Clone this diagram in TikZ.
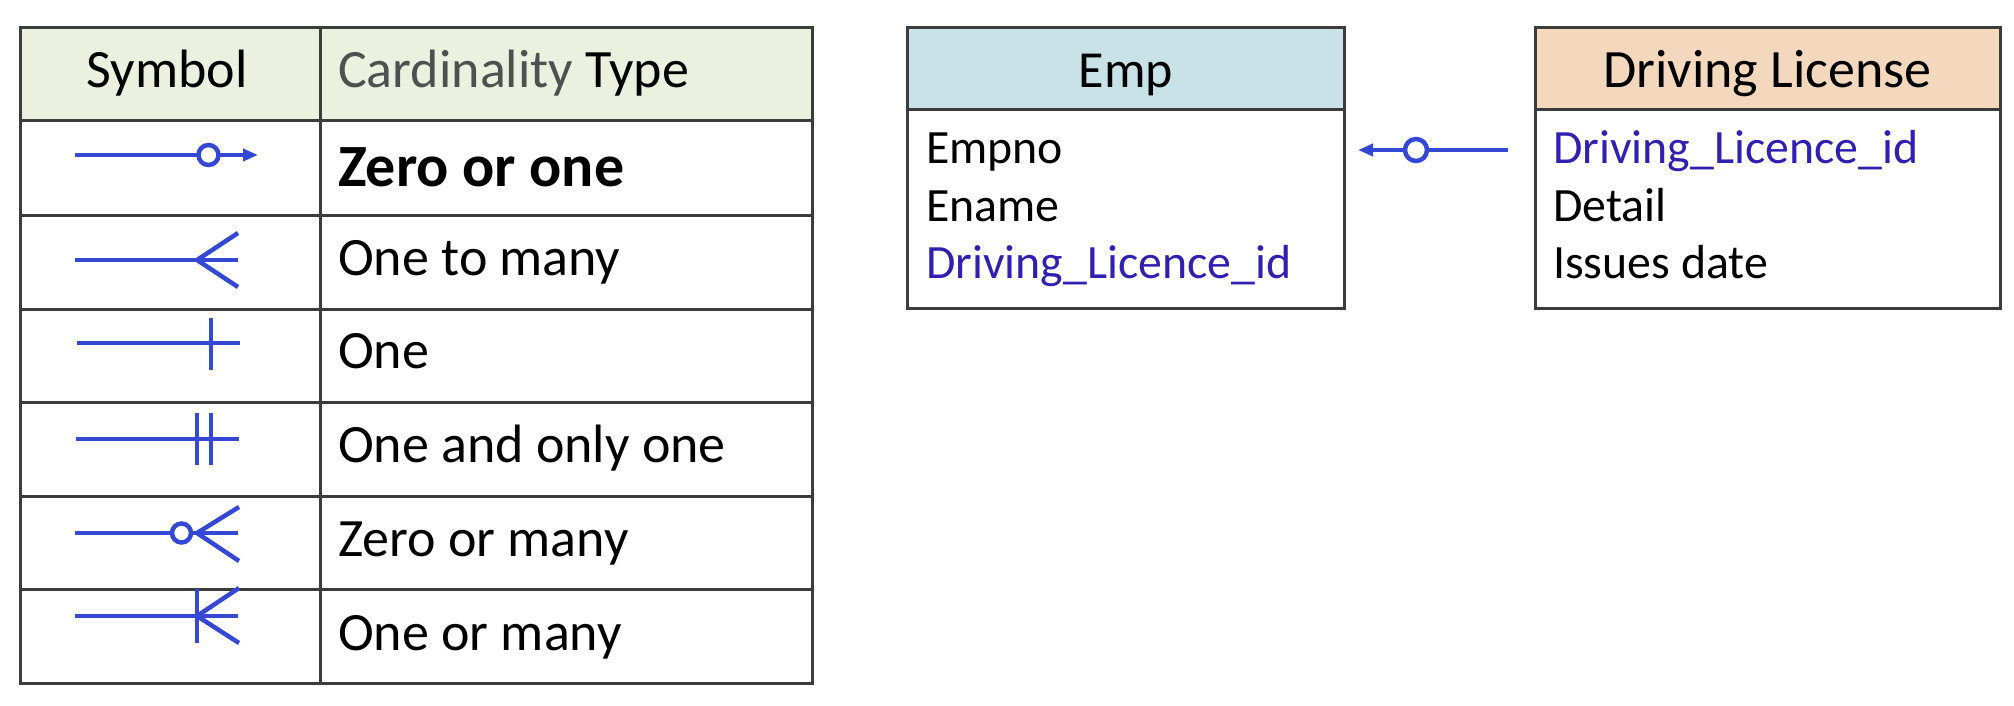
\documentclass[tikz,border=0pt]{standalone}
\usepackage{fontspec}
\setmainfont{Carlito}
\usetikzlibrary{arrows.meta}
\definecolor{tablegreen}{RGB}{235,241,222}
\definecolor{empblue}{RGB}{200,226,231}
\definecolor{dlpeach}{RGB}{243,216,190}
\definecolor{linegray}{RGB}{60,60,60}
\definecolor{symblue}{RGB}{52,72,212}
\definecolor{txtblue}{RGB}{48,32,176}
\definecolor{cardgray}{RGB}{80,80,80}
\tikzset{
  gridline/.style={draw=linegray, line width=3pt},
  symline/.style={draw=symblue, line width=4.5pt},
  tabtxt/.style={inner sep=0pt, anchor=base west, font=\fontsize{54pt}{60pt}\selectfont},
  headtxt/.style={inner sep=0pt, anchor=base, font=\fontsize{53pt}{60pt}\selectfont},
  attrtxt/.style={inner sep=0pt, anchor=base west, font=\fontsize{47.8pt}{56pt}\selectfont},
  boxhead/.style={draw=linegray, line width=3pt, minimum height=82pt, inner sep=0pt, outer sep=0pt},
  boxbody/.style={draw=linegray, line width=3pt, fill=white, minimum height=198pt, inner sep=0pt, outer sep=0pt},
  reltip/.style={-{Triangle[length=15pt,width=12pt]}}
}
\begin{document}
\begin{tikzpicture}[x=1pt,y=-1pt]
\useasboundingbox (0,0) rectangle (2014,706);
\fill[white] (0,0) rectangle (2014,706);

% ---- cardinality table ----
\fill[tablegreen] (20,28) rectangle (812,121);
\draw[gridline] (20,28) rectangle (812,683);
\draw[gridline] (320,28) -- (320,683);
\foreach \yy in {121,215,309,402,496,589} {
  \draw[gridline] (20,\yy) -- (812,\yy);
}
\node[tabtxt, anchor=base] (hsym) at (167,88) {Symbol};
\node[tabtxt] (hcard) at (338,88) {\textcolor{cardgray}{Cardinality} Type};
\node[tabtxt, font=\fontsize{60pt}{66pt}\selectfont] (t1) at (338,186) {\bfseries Zero or one};
\node[tabtxt] (t2) at (338,275) {One to many};
\node[tabtxt] (t3) at (338,368) {One};
\node[tabtxt] (t4) at (338,462) {One and only one};
\node[tabtxt] (t5) at (338,556) {Zero or many};
\node[tabtxt] (t6) at (338,650) {One or many};

% row 1: zero or one
\draw[symline, reltip] (75,155) -- (258,155);
\draw[symline, fill=white] (208.5,155) circle[radius=10pt];
% row 2: one to many
\draw[symline] (75,260) -- (238,260);
\draw[symline] (238,233) -- (197,260) -- (238,287);
% row 3: one
\draw[symline] (77,343) -- (240,343);
\draw[symline] (211,318) -- (211,370);
% row 4: one and only one
\draw[symline] (76,439) -- (239,439);
\draw[symline] (197,413) -- (197,465);
\draw[symline] (211,413) -- (211,465);
% row 5: zero or many
\draw[symline] (75,533) -- (238,533);
\draw[symline] (239,507) -- (197,533) -- (239,561);
\draw[symline, fill=white] (181.5,533) circle[radius=9.5pt];
% row 6: one or many
\draw[symline] (75,616) -- (238,616);
\draw[symline] (197,589) -- (197,643);
\draw[symline] (239,588) -- (197,616) -- (239,643);

% ---- Emp entity ----
\node[boxhead, fill=empblue, minimum width=437pt] (emph) at (1125.5,69) {};
\node[boxbody, minimum width=437pt] (empb) at (1125.5,209) {};
\node[headtxt, font=\fontsize{52pt}{60pt}\selectfont] (empt) at (1126,88) {Emp};
\node[attrtxt] (e1) at (926,164) {Empno};
\node[attrtxt] (e2) at (926,221) {Ename};
\node[attrtxt, text=txtblue] (e3) at (926,278) {Driving\_Licence\_id};

% ---- Driving License entity ----
\node[boxhead, fill=dlpeach, minimum width=465pt] (dlh) at (1767.5,69) {};
\node[boxbody, minimum width=465pt] (dlb) at (1767.5,209) {};
\node[headtxt, font=\fontsize{54pt}{60pt}\selectfont] (dlt) at (1767.5,88) {Driving License};
\node[attrtxt, text=txtblue] (d1) at (1553,164) {Driving\_Licence\_id};
\node[attrtxt] (d2) at (1553,221) {Detail};
\node[attrtxt] (d3) at (1553,278) {Issues date};

% ---- relationship: zero or one ----
\coordinate (relA) at (1508,150);
\coordinate (relB) at (1358,150);
\draw[symline, reltip] (relA) -- (relB);
\draw[symline, fill=white] (1416,150) circle[radius=11pt];
\end{tikzpicture}
\end{document}
